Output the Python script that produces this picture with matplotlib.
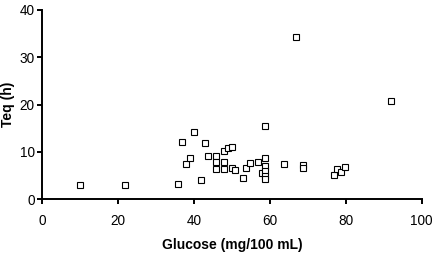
import matplotlib
matplotlib.use("Agg")
import matplotlib.pyplot as plt

plt.rcParams['font.family'] = ['Liberation Sans', 'DejaVu Sans']

glucose = [9.9, 21.8, 35.8, 41.8, 37.8, 38.8, 36.7, 39.9, 42.9, 43.8, 45.8, 45.8, 45.8,
           47.8, 47.8, 47.8, 48.9, 49.9, 49.9, 50.8, 52.8, 53.8, 54.8, 56.9, 58.8, 58.8,
           58.8, 57.8, 58.8, 58.8, 58.8, 63.8, 66.9, 68.7, 68.7, 76.8, 77.8, 78.8, 79.8, 91.8]
teq = [3.0, 3.0, 3.3, 4.0, 7.4, 8.8, 12.2, 14.3, 11.8, 9.2, 9.2, 7.8, 6.5,
       7.8, 6.5, 10.1, 10.8, 11.1, 6.7, 6.25, 4.4, 6.7, 7.6, 7.8, 15.5, 8.8,
       7.1, 5.6, 5.9, 5.0, 4.2, 7.4, 34.2, 7.2, 6.6, 5.1, 6.4, 5.8, 6.9, 20.8]

x_ticks = [0, 20, 40, 60, 80, 100]
y_ticks = [0, 10, 20, 30, 40]

fig = plt.figure(figsize=(4.32, 2.56), dpi=100)
ax_bottom, ax_top = 0.2215, 0.961
ax = fig.add_axes([0.098, ax_bottom, 0.878, ax_top - ax_bottom])
ax.plot(glucose, teq, linestyle='none', marker='s', markersize=3.8,
        markerfacecolor='white', markeredgecolor='black', markeredgewidth=0.8, clip_on=False)
ax.set_xlim(0, 100)
ax.set_ylim(0, 40)
ax.set_xticks(x_ticks)
ax.set_yticks(y_ticks)
for s in ['top', 'right']:
    ax.spines[s].set_visible(False)
for s in ['left', 'bottom']:
    ax.spines[s].set_linewidth(1.4)
ax.tick_params(direction='out', length=3.5, width=1.4, labelsize=9.8)
ax.tick_params(axis='x', pad=7)
ax.tick_params(axis='y', pad=2)
ax.set_xlabel('Glucose (mg/100 mL)', fontsize=10, fontweight='bold', labelpad=7)
fig.text(8.5 / 432, 0.5 * (ax_bottom + ax_top), 'Teq (h)', rotation=90, fontsize=10,
         fontweight='bold', ha='center', va='center')
fig.savefig('out.png', dpi=100)
